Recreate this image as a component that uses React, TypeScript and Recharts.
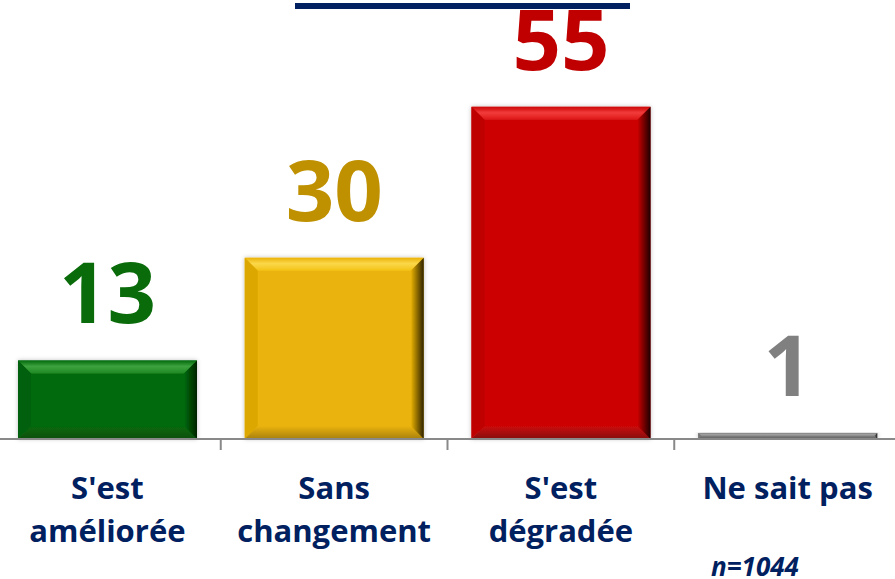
import React from "react";
import { BarChart, Bar, XAxis, YAxis, LabelList } from "recharts";

const categories = ["S'est améliorée", "Sans changement", "S'est dégradée", "Ne sait pas"];
const categoryLines = [["S'est", "améliorée"], ["Sans", "changement"], ["S'est", "dégradée"], ["Ne sait pas"]];
const values = [13, 30, 55, 1];
const sampleNote = "n=1044";

const barColors = [
  { base: "#066A0A", light: "#3DA23F", mid: "#1E8A21", dark: "#012401", bottom: "#0B4E0C", left: "#05600A" },
  { base: "#EBB307", light: "#FBD84A", mid: "#F2C214", dark: "#2E2200", bottom: "#A8800A", left: "#DCA806" },
  { base: "#CC0606", light: "#F23B3B", mid: "#DD1818", dark: "#1E0000", bottom: "#861010", left: "#BE0606" },
  { base: "#7F7F7F", light: "#A0A0A0", mid: "#8A8A8A", dark: "#222222", bottom: "#5A5A5A", left: "#777777" },
];
const labelColors = ["#0A6B0A", "#BF9000", "#C00000", "#808080"];
const navy = "#002060";

const data = categories.map((c, i) => ({ name: c, value: values[i] }));

const CHART_W = 907;
const CHART_H = 579;
const BAND = CHART_W / categories.length;

const BevelBar = (props: any) => {
  const { x, y, width: w, height: h, index } = props;
  if (!(h > 0)) return null;
  const c = barColors[index];
  const b = Math.min(13, h / 2, w / 2);
  const id = `g${index}`;
  return (
    <g filter="url(#barShadow)">
      <rect x={x} y={y} width={w} height={h} fill={c.base} />
      <polygon points={`${x},${y} ${x + w},${y} ${x + w - b},${y + b} ${x + b},${y + b}`} fill={`url(#${id}top)`} />
      <polygon points={`${x},${y} ${x + b},${y + b} ${x + b},${y + h - b} ${x},${y + h}`} fill={c.left} />
      <polygon points={`${x},${y + h} ${x + w},${y + h} ${x + w - b},${y + h - b} ${x + b},${y + h - b}`} fill={`url(#${id}bot)`} />
      <polygon points={`${x + w},${y} ${x + w},${y + h} ${x + w - b},${y + h - b} ${x + w - b},${y + b}`} fill={`url(#${id}right)`} />
    </g>
  );
};

const ValueLabel = (props: any) => {
  const { x, y, width, value, index } = props;
  return (
    <text
      x={x + width / 2}
      y={y - 37}
      textAnchor="middle"
      fill={labelColors[index]}
      style={{ fontFamily: "'Open Sans', sans-serif", fontWeight: 700, fontSize: 85 }}
    >
      {value}
    </text>
  );
};

const CategoryTick = (props: any) => {
  const { x, y, payload } = props;
  const i = categories.indexOf(payload.value);
  const lines = categoryLines[i] || [payload.value];
  return (
    <g>
      {i > 0 && (
        <line x1={x - BAND / 2} x2={x - BAND / 2} y1={y} y2={y + 11} stroke="#898989" strokeWidth={2} />
      )}
      {lines.map((l, k) => (
        <text
          key={k}
          x={x}
          y={y + 60 + k * 43}
          textAnchor="middle"
          fill={navy}
          style={{ fontFamily: "'Open Sans', sans-serif", fontWeight: 700, fontSize: 31 }}
        >
          {l}
        </text>
      ))}
    </g>
  );
};

export default function App() {
  return (
    <div style={{ position: "relative", width: 895, height: 579, overflow: "hidden", background: "#fff" }}>
      <style>{`body{margin:0;overflow:hidden}`}</style>
      <div style={{ position: "absolute", left: 295, top: 3, width: 335, height: 6, background: navy }} />
      <div style={{ position: "absolute", left: -6, top: 0 }}>
        <BarChart
          width={CHART_W}
          height={CHART_H}
          data={data}
          margin={{ top: 6, right: 0, bottom: 0, left: 0 }}
          barSize={179}
        >
          <defs>
            <filter id="barShadow" x="-10%" y="-10%" width="120%" height="120%">
              <feDropShadow dx="0" dy="0" stdDeviation="2" floodColor="#000" floodOpacity="0.25" />
            </filter>
            {barColors.map((c, i) => (
              <React.Fragment key={i}>
                <linearGradient id={`g${i}top`} x1="0" y1="0" x2="0" y2="1">
                  <stop offset="0%" stopColor={c.base} />
                  <stop offset="45%" stopColor={c.light} />
                  <stop offset="100%" stopColor={c.mid} />
                </linearGradient>
                <linearGradient id={`g${i}bot`} x1="0" y1="0" x2="0" y2="1">
                  <stop offset="0%" stopColor={c.base} />
                  <stop offset="100%" stopColor={c.bottom} />
                </linearGradient>
                <linearGradient id={`g${i}right`} x1="0" y1="0" x2="1" y2="0">
                  <stop offset="0%" stopColor={c.base} />
                  <stop offset="100%" stopColor={c.dark} />
                </linearGradient>
              </React.Fragment>
            ))}
          </defs>
          <YAxis hide domain={[0, 71.7]} />
          <XAxis
            dataKey="name"
            height={140}
            axisLine={{ stroke: "#898989", strokeWidth: 2 }}
            tickLine={false}
            tickSize={0}
            tickMargin={0}
            interval={0}
            tick={<CategoryTick />}
          />
          <Bar dataKey="value" isAnimationActive={false} shape={<BevelBar />}>
            <LabelList dataKey="value" content={<ValueLabel />} />
          </Bar>
        </BarChart>
      </div>
      <svg style={{ position: "absolute", left: 0, top: 0 }} width={895} height={579} pointerEvents="none">
        <text
          x={711}
          y={576}
          fill={navy}
          style={{ fontFamily: "'Open Sans', sans-serif", fontWeight: 700, fontStyle: "italic", fontSize: 26 }}
        >
          {sampleNote}
        </text>
      </svg>
    </div>
  );
}
